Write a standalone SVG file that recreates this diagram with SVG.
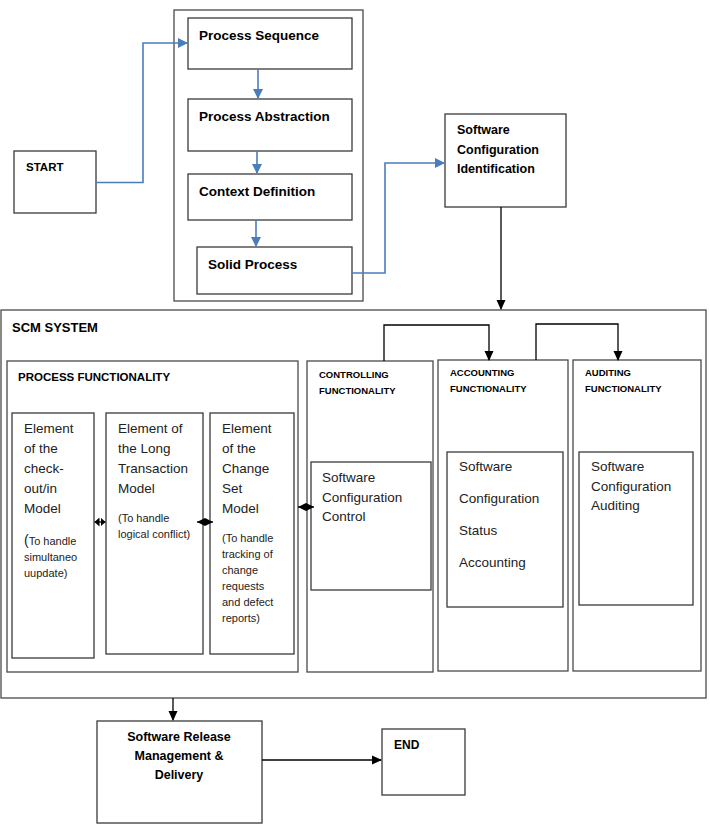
<svg xmlns="http://www.w3.org/2000/svg" width="710" height="839" viewBox="0 0 710 839">
<defs>
<style>
.box{fill:#fff;stroke:#3a3a3a;stroke-width:1.3}
.frame{fill:none;stroke:#4a4a4a;stroke-width:1.3}
.blue{fill:none;stroke:#4a7ebb;stroke-width:1.6}
.blk{fill:none;stroke:#000;stroke-width:1.3}
text{font-family:"Liberation Sans",Arial,sans-serif;fill:#000}
.b{font-weight:bold}
.t135{font-size:13.5px}
.t125{font-size:12.5px}
.m{font-size:13.5px;fill:#222}
.s{font-size:11px;fill:#222}
.h{font-size:9.5px;font-weight:bold}
</style>
<marker id="ab" markerWidth="10" markerHeight="10" refX="9" refY="5" orient="auto" markerUnits="userSpaceOnUse"><path d="M0,0 L10,5 L0,10 Z" fill="#4a7ebb"/></marker>
<marker id="ak" markerWidth="10" markerHeight="10" refX="9" refY="5" orient="auto" markerUnits="userSpaceOnUse"><path d="M0,0.5 L10,5 L0,9.5 Z" fill="#000"/></marker>
<marker id="ad" markerWidth="8" markerHeight="8" refX="8" refY="4" orient="auto-start-reverse" markerUnits="userSpaceOnUse"><path d="M0,0 L8,4 L0,8 Z" fill="#000"/></marker>
<marker id="as" markerWidth="5" markerHeight="9" refX="5" refY="4.5" orient="auto-start-reverse" markerUnits="userSpaceOnUse"><path d="M0,0 L5,4.5 L0,9 Z" fill="#000"/></marker>
</defs>
<rect width="710" height="839" fill="#fff"/>

<g id="process-container"><rect class="frame" x="174" y="10" width="189" height="291"/></g>

<g id="start"><rect class="box" x="14" y="151" width="82" height="62"/><text class="b" x="26" y="171" font-size="11.5">START</text></g>
<g id="process-sequence"><rect class="box" x="188" y="18" width="164" height="51"/><text class="b t135" x="199" y="40">Process Sequence</text></g>
<g id="process-abstraction"><rect class="box" x="188" y="99" width="164" height="52"/><text class="b t135" x="199" y="121">Process Abstraction</text></g>
<g id="context-definition"><rect class="box" x="188" y="174" width="164" height="46"/><text class="b t135" x="199" y="196">Context Definition</text></g>
<g id="solid-process"><rect class="box" x="197" y="247" width="155" height="47"/><text class="b t135" x="208" y="269">Solid Process</text></g>

<g id="sci"><rect class="box" x="445" y="114" width="121" height="93"/>
<text class="b t125" x="457" y="134">Software</text><text class="b t125" x="457" y="154">Configuration</text><text class="b t125" x="457" y="173">Identification</text></g>

<g id="scm-system"><rect class="frame" x="1" y="310" width="705" height="388"/><text class="b" x="12" y="332" font-size="13">SCM SYSTEM</text></g>

<g id="process-functionality"><rect class="frame" x="7" y="361" width="291" height="311"/><text class="b" x="18" y="381" font-size="11.5">PROCESS FUNCTIONALITY</text></g>

<g id="element-checkout"><rect class="box" x="12" y="413" width="82" height="245"/>
<text class="m" x="24" y="433">Element</text><text class="m" x="24" y="453">of the</text><text class="m" x="24" y="473">check-</text><text class="m" x="24" y="493">out/in</text><text class="m" x="24" y="513">Model</text>
<text class="s" x="24" y="545"><tspan font-size="14">(</tspan>To handle</text><text class="s" x="24" y="561">simultaneo</text><text class="s" x="24" y="577">uupdate)</text></g>

<g id="element-long"><rect class="box" x="106" y="413" width="97" height="241"/>
<text class="m" x="118" y="433">Element of</text><text class="m" x="118" y="453">the Long</text><text class="m" x="118" y="473">Transaction</text><text class="m" x="118" y="493">Model</text>
<text class="s" x="118" y="522">(To handle</text><text class="s" x="118" y="538">logical conflict)</text></g>

<g id="element-change"><rect class="box" x="210" y="413" width="84" height="241"/>
<text class="m" x="222" y="433">Element</text><text class="m" x="222" y="453">of the</text><text class="m" x="222" y="473">Change</text><text class="m" x="222" y="493">Set</text><text class="m" x="222" y="513">Model</text>
<text class="s" x="222" y="542">(To handle</text><text class="s" x="222" y="558">tracking of</text><text class="s" x="222" y="574">change</text><text class="s" x="222" y="590">requests</text><text class="s" x="222" y="606">and defect</text><text class="s" x="222" y="622">reports)</text></g>

<g id="controlling"><rect class="frame" x="307" y="361" width="126" height="311"/>
<text class="h" x="319" y="378">CONTROLLING</text><text class="h" x="319" y="394">FUNCTIONALITY</text>
<rect class="box" x="311" y="462" width="120" height="128"/>
<text class="m" x="322" y="482" font-size="14">Software</text><text class="m" x="322" y="502" font-size="14">Configuration</text><text class="m" x="322" y="521" font-size="14">Control</text></g>

<g id="accounting"><rect class="frame" x="438" y="360" width="130" height="311"/>
<text class="h" x="450" y="376">ACCOUNTING</text><text class="h" x="450" y="392">FUNCTIONALITY</text>
<rect class="box" x="447" y="452" width="116" height="155"/>
<text class="m" x="459" y="471" font-size="14">Software</text><text class="m" x="459" y="503" font-size="14">Configuration</text><text class="m" x="459" y="535" font-size="14">Status</text><text class="m" x="459" y="567" font-size="14">Accounting</text></g>

<g id="auditing"><rect class="frame" x="573" y="360" width="128" height="311"/>
<text class="h" x="585" y="376">AUDITING</text><text class="h" x="585" y="392">FUNCTIONALITY</text>
<rect class="box" x="579" y="452" width="114" height="153"/>
<text class="m" x="591" y="471" font-size="14">Software</text><text class="m" x="591" y="491" font-size="14">Configuration</text><text class="m" x="591" y="510" font-size="14">Auditing</text></g>

<g id="srm"><rect class="box" x="97" y="721" width="165" height="102"/>
<text class="b" x="179" y="741" font-size="12.5" text-anchor="middle">Software Release</text><text class="b" x="179" y="760" font-size="12.5" text-anchor="middle">Management &amp;</text><text class="b" x="179" y="779" font-size="12.5" text-anchor="middle">Delivery</text></g>

<g id="end"><rect class="box" x="382" y="729" width="83" height="66"/><text class="b" x="394" y="749" font-size="12">END</text></g>

<g id="connectors">
<path class="blue" d="M96,182.5 H143 V43 H187" marker-end="url(#ab)"/>
<path class="blue" d="M258,69 V98" marker-end="url(#ab)"/>
<path class="blue" d="M257,151 V173" marker-end="url(#ab)"/>
<path class="blue" d="M256,220 V246" marker-end="url(#ab)"/>
<path class="blue" d="M352,273 H385 V163 H444" marker-end="url(#ab)"/>
<path class="blk" d="M501,207 V309" marker-end="url(#ak)"/>
<path class="blk" d="M384,361 V325 H489 V360" marker-end="url(#ak)"/>
<path class="blk" d="M536,360 V324 H618 V360" marker-end="url(#ak)"/>
<path class="blk" d="M94.5,522 H105.5" marker-start="url(#as)" marker-end="url(#as)"/>
<path class="blk" d="M197,522 H213" marker-start="url(#ad)" marker-end="url(#ad)"/>
<path class="blk" d="M298,507 H314" marker-start="url(#ad)" marker-end="url(#ad)"/>
<path class="blk" d="M173,698 V720" marker-end="url(#ak)"/>
<path class="blk" d="M262,760 H381" marker-end="url(#ak)"/>
</g>
</svg>
